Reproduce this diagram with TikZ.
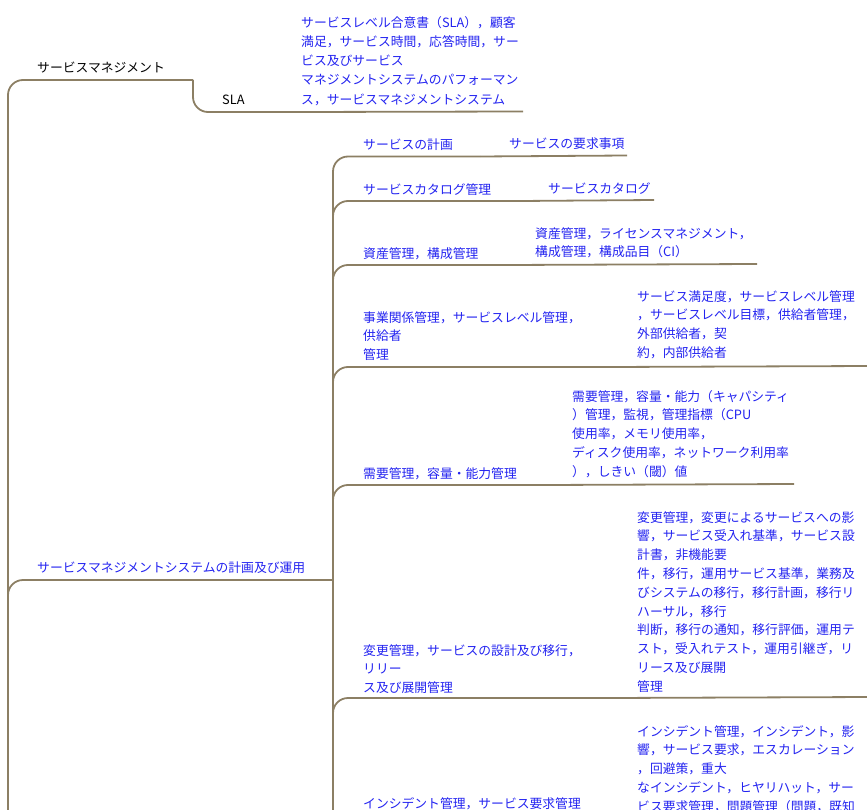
\documentclass[tikz,border=0pt]{standalone}
\usepackage{fontspec}
\newfontfamily\jp{Noto Sans CJK JP}
\definecolor{linec}{RGB}{140,127,100}
\definecolor{txtb}{RGB}{35,35,240}
\begin{document}
\begin{tikzpicture}[x=1pt,y=-1pt,
  conn/.style={draw=linec, line width=1.8pt, rounded corners=15pt},
  ul/.style={draw=linec, line width=1.8pt},
  lbl/.style={anchor=north west, inner sep=0pt, align=left, font=\jp\fontsize{12.8}{18.8}\selectfont, text=txtb},
  slalbl/.style={lbl, font=\jp\fontsize{12.8}{19.25}\selectfont},
  blk/.style={lbl, text=black}]
\useasboundingbox (0,0) rectangle (867,810);
\clip (0,0) rectangle (867,810);

% junction coordinates
\coordinate (a1) at (193,80);
\coordinate (sla1) at (300,112);
\coordinate (slad) at (523,111.5);
\coordinate (b1) at (333,580);
\coordinate (c1) at (480,156.5); \coordinate (c1d) at (627,155.5);
\coordinate (c2) at (520,201);   \coordinate (c2d) at (654,200);
\coordinate (c3) at (507,265);   \coordinate (c3d) at (757,264);
\coordinate (c4) at (610,367);   \coordinate (c4d) at (870,366);
\coordinate (c5) at (545,485);   \coordinate (c5d) at (794,484);
\coordinate (c6) at (610,698);   \coordinate (c6d) at (870,697);

% connectors
\draw[conn] (8,830) -- (8,80) -- (a1);
\draw[conn] (a1) -- (193,112) -- (sla1);
\draw[ul] (sla1) -- (slad);
\draw[conn] (8,620) -- (8,580) -- (b1);
\draw[conn] (333,830) -- (333,156.5) -- (c1);
\draw[conn] (333,240) -- (333,201) -- (c2);
\draw[conn] (333,300) -- (333,265) -- (c3);
\draw[conn] (333,400) -- (333,367) -- (c4);
\draw[conn] (333,520) -- (333,485) -- (c5);
\draw[conn] (333,730) -- (333,698) -- (c6);
\draw[ul] (c1) -- (c1d);
\draw[ul] (c2) -- (c2d);
\draw[ul] (c3) -- (c3d);
\draw[ul] (c4) -- (c4d);
\draw[ul] (c5) -- (c5d);
\draw[ul] (c6) -- (c6d);

% nodes
\node[blk] (sm) at (37,58.8) {\strut サービスマネジメント};
\node[blk] (sla) at (222,90.8) {\strut SLA};
\node[slalbl] (slat) at (301,13.5) {\strut サービスレベル合意書（SLA），顧客\\満足，サービス時間，応答時間，サー\\ビス及びサービス\\マネジメントシステムのパフォーマン\\ス，サービスマネジメントシステム};
\node[lbl] (smsys) at (37,558.8) {\strut サービスマネジメントシステムの計画及び運用};

\node[lbl] (n1) at (363,135.8) {\strut サービスの計画};
\node[lbl] (n1d) at (509,134.8) {\strut サービスの要求事項};
\node[lbl] (n2) at (363,180.8) {\strut サービスカタログ管理};
\node[lbl] (n2d) at (548,179.8) {\strut サービスカタログ};
\node[lbl] (n3) at (363,244.8) {\strut 資産管理，構成管理};
\node[lbl] (n3d) at (535,224.8) {\strut 資産管理，ライセンスマネジメント，\\構成管理，構成品目（CI）};
\node[lbl] (n4) at (363,308.8) {\strut 事業関係管理，サービスレベル管理，\\供給者\\管理};
\node[lbl] (n4d) at (637,287.8) {\strut サービス満足度，サービスレベル管理\\，サービスレベル目標，供給者管理，\\外部供給者，契\\約，内部供給者};
\node[lbl] (n5) at (363,464.8) {\strut 需要管理，容量・能力管理};
\node[lbl] (n5d) at (572,387.8) {\strut 需要管理，容量・能力（キャパシティ\\）管理，監視，管理指標（CPU\\使用率，メモリ使用率，\\ディスク使用率，ネットワーク利用率\\），しきい（閾）値};
\node[lbl] (n6) at (363,641.8) {\strut 変更管理，サービスの設計及び移行，\\リリー\\ス及び展開管理};
\node[lbl] (n6d) at (637,508.8) {\strut 変更管理，変更によるサービスへの影\\響，サービス受入れ基準，サービス設\\計書，非機能要\\件，移行，運用サービス基準，業務及\\びシステムの移行，移行計画，移行リ\\ハーサル，移行\\判断，移行の通知，移行評価，運用テ\\スト，受入れテスト，運用引継ぎ，リ\\リース及び展開\\管理};
\node[lbl] (n7) at (363,794.8) {\strut インシデント管理，サービス要求管理};
\node[lbl] (n7d) at (637,722.8) {\strut インシデント管理，インシデント，影\\響，サービス要求，エスカレーション\\，回避策，重大\\なインシデント，ヒヤリハット，サー\\ビス要求管理，問題管理（問題，既知};
\end{tikzpicture}
\end{document}
